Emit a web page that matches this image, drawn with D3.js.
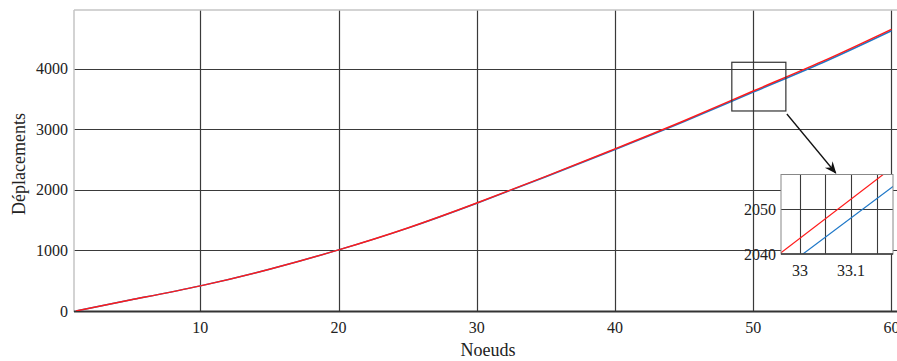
<!DOCTYPE html>
<html>
<head>
<meta charset="utf-8">
<script src="https://cdn.jsdelivr.net/npm/d3@7"></script>
<style>
  body { margin: 0; background: #fff; }
  svg { display: block; }
  text { font-family: "Liberation Serif", "DejaVu Serif", serif; fill: #222; }
</style>
</head>
<body>
<div id="chart"></div>
<script>
// Nodes (x) and displacements
var nodes = [1, 5, 10, 15, 20, 25, 30, 35, 40, 45, 50, 55, 60];
var deplRed = [0, 185, 415, 690, 1010, 1372, 1785, 2225, 2680, 3145, 3636, 4125, 4656];
var deplBlue = [0, 185, 415, 690, 1010, 1370, 1781, 2218, 2670, 3131, 3618, 4103, 4632];
var xTicks = [10, 20, 30, 40, 50, 60];
var yTicks = [0, 1000, 2000, 3000, 4000];

// Inset (zoom) values
var insetRedX = [32.96, 33.18];
var insetRedY = [2040, 2059.2];
var insetBlueX = [33.0, 33.185];
var insetBlueY = [2039.5, 2055.3];
var insetXGrid = [33, 33.05, 33.1, 33.15];
var insetXLabels = [33, 33.1];
var insetYTicks = [2040, 2050];

// Zoom box drawn on the main chart (data coords)
var zoomBoxX = [48.45, 52.36];
var zoomBoxY = [3306, 4111];

var COLORS = {
  RED: '#ff1a1a',
  BLUE: '#1f78c8',
  GRID: '#3a3a3a',
  FRAME: '#c4c4c4'
};

var W = 897, H = 361;

var svg = d3.select('#chart').append('svg')
  .attr('width', W)
  .attr('height', H);

var x = d3.scaleLinear().domain([0.86, 60.4]).range([74, 897]);
var y = d3.scaleLinear().domain([0, 4975]).range([311, 10]);

// Clip for the main plot area
svg.append('clipPath').attr('id', 'plotClip')
  .append('rect')
  .attr('x', 74).attr('y', 10)
  .attr('width', 897 - 74).attr('height', 311 - 10);

// Grid lines
svg.append('g').selectAll('line')
  .data(xTicks)
  .join('line')
  .attr('x1', function(d) { return Math.round(x(d)) + 0.5; })
  .attr('x2', function(d) { return Math.round(x(d)) + 0.5; })
  .attr('y1', 10).attr('y2', 311)
  .attr('stroke', COLORS.GRID)
  .attr('stroke-width', 1.2);

svg.append('g').selectAll('line')
  .data(yTicks.filter(function(d) { return d > 0; }))
  .join('line')
  .attr('x1', 74).attr('x2', 897)
  .attr('y1', function(d) { return Math.round(y(d)) + 0.5; })
  .attr('y2', function(d) { return Math.round(y(d)) + 0.5; })
  .attr('stroke', COLORS.GRID)
  .attr('stroke-width', 1.2);

// Frame: light top and left, dark bottom
svg.append('line').attr('x1', 74).attr('x2', 897).attr('y1', 10).attr('y2', 10)
  .attr('stroke', COLORS.FRAME).attr('stroke-width', 1.5);
svg.append('line').attr('x1', 74).attr('x2', 74).attr('y1', 10).attr('y2', 312)
  .attr('stroke', COLORS.FRAME).attr('stroke-width', 1.5);
svg.append('line').attr('x1', 74).attr('x2', 897).attr('y1', 311.5).attr('y2', 311.5)
  .attr('stroke', '#333').attr('stroke-width', 2);

// Tick labels
svg.append('g').selectAll('text')
  .data(xTicks)
  .join('text')
  .attr('x', function(d) { return x(d); })
  .attr('y', 333)
  .attr('text-anchor', 'middle')
  .attr('font-size', '16px')
  .text(function(d) { return d; });

svg.append('g').selectAll('text')
  .data(yTicks)
  .join('text')
  .attr('x', 68)
  .attr('y', function(d) { return y(d) + 5.5; })
  .attr('text-anchor', 'end')
  .attr('font-size', '16px')
  .text(function(d) { return d; });

// Axis titles
svg.append('text')
  .attr('x', 488).attr('y', 356)
  .attr('text-anchor', 'middle')
  .attr('font-size', '18px')
  .text('Noeuds');

svg.append('text')
  .attr('transform', 'translate(25,164) rotate(-90)')
  .attr('text-anchor', 'middle')
  .attr('font-size', '18px')
  .text('Déplacements');

// Curves
var line = d3.line()
  .x(function(d) { return x(d[0]); })
  .y(function(d) { return y(d[1]); })
  .curve(d3.curveNatural);

svg.append('path')
  .datum(d3.zip(nodes, deplBlue))
  .attr('clip-path', 'url(#plotClip)')
  .attr('fill', 'none')
  .attr('stroke', COLORS.BLUE)
  .attr('stroke-width', 1.5)
  .attr('d', line);

svg.append('path')
  .datum(d3.zip(nodes, deplRed))
  .attr('clip-path', 'url(#plotClip)')
  .attr('fill', 'none')
  .attr('stroke', COLORS.RED)
  .attr('stroke-width', 1.5)
  .attr('d', line);

// Zoom box on the main curve
svg.append('rect')
  .attr('x', x(zoomBoxX[0]))
  .attr('y', y(zoomBoxY[1]))
  .attr('width', x(zoomBoxX[1]) - x(zoomBoxX[0]))
  .attr('height', y(zoomBoxY[0]) - y(zoomBoxY[1]))
  .attr('fill', 'none')
  .attr('stroke', '#333')
  .attr('stroke-width', 1.2);

// Inset
var ix = d3.scaleLinear().domain([32.963, 33.182]).range([781, 893]);
var iy = d3.scaleLinear().domain([2040, 2057.7]).range([254, 174.5]);

svg.append('clipPath').attr('id', 'insetClip')
  .append('rect')
  .attr('x', 781).attr('y', 174.5)
  .attr('width', 893 - 781).attr('height', 254 - 174.5);

svg.append('rect')
  .attr('x', 781).attr('y', 174.5)
  .attr('width', 893 - 781).attr('height', 254 - 174.5)
  .attr('fill', '#fff');

svg.append('g').selectAll('line')
  .data(insetXGrid)
  .join('line')
  .attr('x1', function(d) { return Math.round(ix(d)) + 0.5; })
  .attr('x2', function(d) { return Math.round(ix(d)) + 0.5; })
  .attr('y1', 174.5).attr('y2', 254)
  .attr('stroke', COLORS.GRID)
  .attr('stroke-width', 1.1);

svg.append('line')
  .attr('x1', 781).attr('x2', 893)
  .attr('y1', Math.round(iy(2050)) + 0.5)
  .attr('y2', Math.round(iy(2050)) + 0.5)
  .attr('stroke', COLORS.GRID)
  .attr('stroke-width', 1.1);

var iline = d3.line()
  .x(function(d) { return ix(d[0]); })
  .y(function(d) { return iy(d[1]); });

svg.append('path')
  .datum(d3.zip(insetBlueX, insetBlueY))
  .attr('clip-path', 'url(#insetClip)')
  .attr('fill', 'none')
  .attr('stroke', COLORS.BLUE)
  .attr('stroke-width', 1.2)
  .attr('d', iline);

svg.append('path')
  .datum(d3.zip(insetRedX, insetRedY))
  .attr('clip-path', 'url(#insetClip)')
  .attr('fill', 'none')
  .attr('stroke', COLORS.RED)
  .attr('stroke-width', 1.2)
  .attr('d', iline);

svg.append('rect')
  .attr('x', 781).attr('y', 174.5)
  .attr('width', 893 - 781).attr('height', 254 - 174.5)
  .attr('fill', 'none')
  .attr('stroke', '#888')
  .attr('stroke-width', 1);

svg.append('line')
  .attr('x1', 781).attr('x2', 893).attr('y1', 254).attr('y2', 254)
  .attr('stroke', '#333').attr('stroke-width', 1.5);

svg.append('g').selectAll('text')
  .data(insetYTicks)
  .join('text')
  .attr('x', 776)
  .attr('y', function(d) { return iy(d) + 6; })
  .attr('text-anchor', 'end')
  .attr('font-size', '16px')
  .text(function(d) { return d; });

svg.append('g').selectAll('text')
  .data(insetXLabels)
  .join('text')
  .attr('x', function(d) { return ix(d); })
  .attr('y', 276)
  .attr('text-anchor', 'middle')
  .attr('font-size', '16px')
  .text(function(d) { return d; });

// Arrow from the zoom box to the inset
svg.append('defs').append('marker')
  .attr('id', 'arrowHead')
  .attr('viewBox', '0 0 12 12')
  .attr('refX', 11).attr('refY', 6)
  .attr('markerWidth', 12).attr('markerHeight', 12)
  .attr('markerUnits', 'userSpaceOnUse')
  .attr('orient', 'auto')
  .append('path')
  .attr('d', 'M0,1 L12,6 L0,11 L4,6 z')
  .attr('fill', '#111');

svg.append('line')
  .attr('x1', x(zoomBoxX[1]) + 1)
  .attr('y1', y(zoomBoxY[0]) + 3)
  .attr('x2', ix(33.07))
  .attr('y2', 173)
  .attr('stroke', '#111')
  .attr('stroke-width', 1.3)
  .attr('marker-end', 'url(#arrowHead)');
</script>
</body>
</html>
